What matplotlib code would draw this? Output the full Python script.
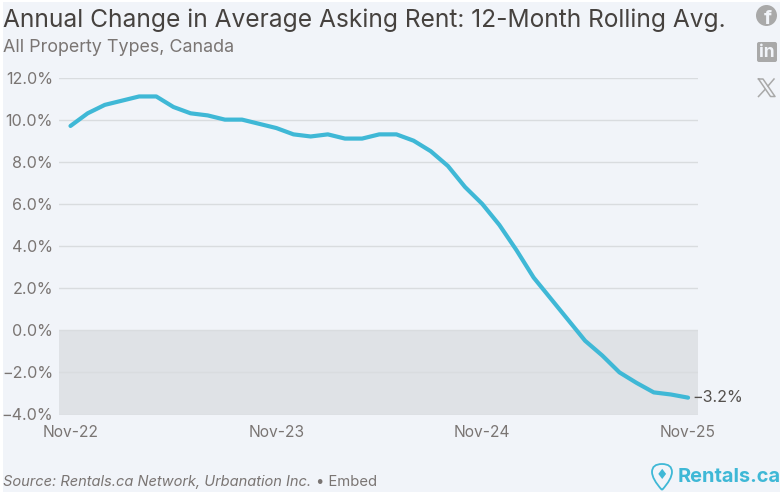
#!/usr/bin/env python3

import matplotlib.pyplot as plt
from matplotlib.patches import Circle, FancyBboxPatch, PathPatch, Rectangle
from matplotlib.path import Path

plt.rcParams["font.family"] = ["Inter", "DejaVu Sans"]

MONTHS = [
    "Nov-22", "Dec-22", "Jan-23", "Feb-23", "Mar-23", "Apr-23", "May-23", "Jun-23", "Jul-23", "Aug-23",
    "Sep-23", "Oct-23", "Nov-23", "Dec-23", "Jan-24", "Feb-24", "Mar-24", "Apr-24", "May-24", "Jun-24",
    "Jul-24", "Aug-24", "Sep-24", "Oct-24", "Nov-24", "Dec-24", "Jan-25", "Feb-25", "Mar-25", "Apr-25",
    "May-25", "Jun-25", "Jul-25", "Aug-25", "Sep-25", "Oct-25", "Nov-25",
]
RENT_CHANGE = [
    9.7, 10.3, 10.7, 10.9, 11.1, 11.1, 10.6, 10.3, 10.2, 10.0,
    10.0, 9.8, 9.6, 9.3, 9.2, 9.3, 9.1, 9.1, 9.3, 9.3,
    9.0, 8.5, 7.8, 6.8, 6.0, 5.0, 3.8, 2.5, 1.5, 0.5,
    -0.5, -1.2, -2.0, -2.5, -2.95, -3.05, -3.2,
]
Y_TICKS = [-4, -2, 0, 2, 4, 6, 8, 10, 12]
X_LABELS = ["Nov-22", "Nov-23", "Nov-24", "Nov-25"]

W, H = 780, 494
BG = "#f1f4f9"
LINE = "#3fb8d6"
GRID = "#d9dcdf"
TICK_TEXT = "#7a7573"
TITLE_TEXT = "#46423f"
ICON = "#a9a9a9"


def fmt_pct(v):
    return f"{v:.1f}%".replace("-", "\u2212")


def px(x, y):
    # pixel coords (top-left origin) to figure fraction
    return x / W, 1 - y / H


def draw_icons(fig):
    overlay = fig.add_axes([0, 0, 1, 1], zorder=5)
    overlay.set_xlim(0, W)
    overlay.set_ylim(H, 0)
    overlay.axis("off")

    overlay.add_patch(Circle((766.5, 15.5), 10.5, color=ICON, lw=0))
    overlay.text(768, 18.5, "f", color=BG, fontsize=14.5, fontweight="bold", ha="center", va="center")
    overlay.add_patch(FancyBboxPatch((757, 42), 20, 20, boxstyle="round,pad=0,rounding_size=2", color=ICON, lw=0))
    overlay.text(767, 52.5, "in", color=BG, fontsize=12.5, fontweight="bold", ha="center", va="center")
    # X logo: one outlined stroke, one thin stroke
    overlay.plot([758.5, 763, 775, 770.5, 758.5], [79, 79, 96.5, 96.5, 79], color=ICON, lw=1.1)
    overlay.plot([774, 768], [79, 86], color=ICON, lw=1.1)
    overlay.plot([765, 758.5], [89.5, 96.5], color=ICON, lw=1.1)

    # map pin of the logo
    pin = Path(
        [(662, 490), (652, 479), (652, 472), (652, 464), (662, 464), (672, 464), (672, 472), (672, 479), (662, 490)],
        [Path.MOVETO, Path.CURVE3, Path.CURVE3, Path.CURVE3, Path.CURVE3, Path.CURVE3, Path.CURVE3, Path.CURVE3, Path.CURVE3],
    )
    overlay.add_patch(PathPatch(pin, facecolor="none", edgecolor=LINE, lw=1.3))
    overlay.text(662, 474.5, "\u2666", color=LINE, fontsize=10, ha="center", va="center", family="DejaVu Sans")
    overlay.text(678, 477, "Rentals.ca", color=LINE, fontsize=14.4, fontweight="bold", ha="left", va="center")


def main():
    fig = plt.figure(figsize=(W / 100, H / 100), dpi=100, facecolor="white")
    fig.add_artist(Rectangle((3 / W, 2 / H), (W - 3) / W, (H - 4) / H, transform=fig.transFigure, color=BG, lw=0, zorder=-1))

    left, top = px(59, 77.5)
    right, bottom = px(698, 414.5)
    ax = fig.add_axes([left, bottom, right - left, top - bottom])
    ax.set_facecolor("none")

    xs = list(range(len(MONTHS)))
    ax.axhspan(-4, 0, color="#dfe2e6", lw=0, zorder=0)
    ax.plot(xs, RENT_CHANGE, color=LINE, lw=3.0, solid_capstyle="round", solid_joinstyle="round", zorder=3)

    ax.set_xlim(-0.67, 36.58)
    ax.set_ylim(-4, 12)
    ax.set_yticks(Y_TICKS)
    ax.set_yticklabels([fmt_pct(v) for v in Y_TICKS], fontsize=11.6, color=TICK_TEXT)
    ax.set_xticks([MONTHS.index(m) for m in X_LABELS])
    ax.set_xticklabels(X_LABELS, fontsize=11.2, color=TICK_TEXT)
    ax.tick_params(axis="both", length=0)
    ax.tick_params(axis="x", pad=7.5)
    ax.tick_params(axis="y", pad=4.3)
    ax.grid(axis="y", color=GRID, lw=1.0, zorder=1)
    ax.set_axisbelow(True)
    for side in ax.spines.values():
        side.set_visible(False)

    ax.annotate(
        fmt_pct(RENT_CHANGE[-1]),
        (xs[-1], RENT_CHANGE[-1]),
        xytext=(3, 0),
        textcoords="offset points",
        va="center",
        ha="left",
        fontsize=11.6,
        color="#55514e",
        annotation_clip=False,
    )

    fig.text(*px(3, 20), "Annual Change in Average Asking Rent: 12-Month Rolling Avg.", fontsize=17.67, color=TITLE_TEXT, va="center")
    fig.text(*px(3, 47), "All Property Types, Canada", fontsize=12.9, color=TICK_TEXT, va="center")
    fig.text(*px(3, 481.5), "Source: Rentals.ca Network, Urbanation Inc.", fontsize=10.55, color=TICK_TEXT, style="italic", va="center")
    fig.text(*px(316, 481.5), "\u2022 Embed", fontsize=10.7, color=TICK_TEXT, va="center")

    draw_icons(fig)
    fig.savefig("out.png", dpi=100, facecolor="white")


if __name__ == "__main__":
    main()
